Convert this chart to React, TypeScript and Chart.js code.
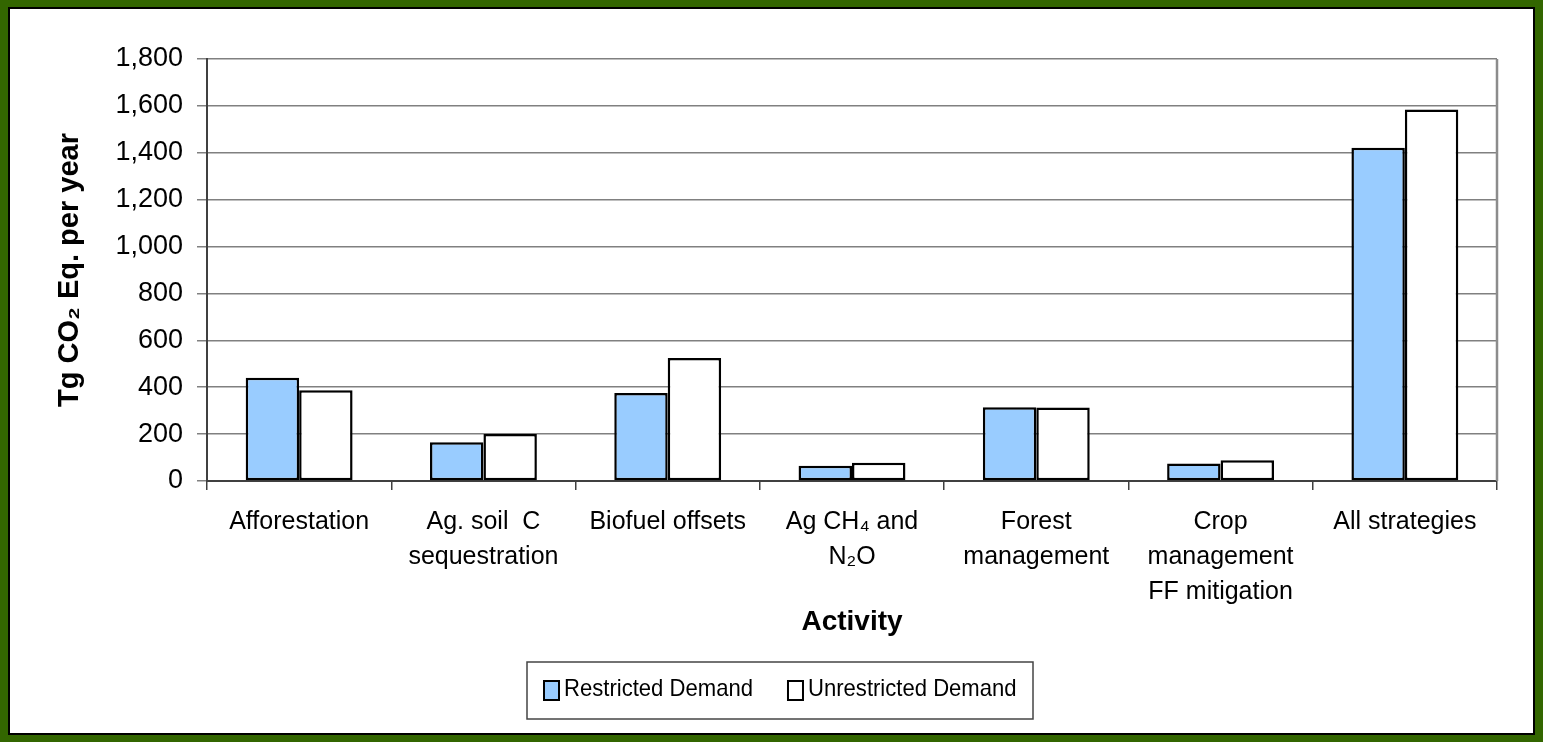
import React, { useEffect, useRef } from 'react';
import { Chart, registerables } from 'chart.js';

Chart.register(...registerables);

const FONT = "'Liberation Sans', Arial, Helvetica, sans-serif";

const categories: string[][] = [
  ['Afforestation'],
  ['Ag. soil  C', 'sequestration'],
  ['Biofuel offsets'],
  ['Ag CH\u2084 and', 'N\u2082O'],
  ['Forest', 'management'],
  ['Crop', 'management', 'FF mitigation'],
  ['All strategies'],
];
const restrictedDemand = [440, 165, 375, 65, 315, 75, 1421];
const unrestrictedDemand = [387, 200, 525, 78, 313, 88, 1585];
const seriesNames = ['Restricted Demand', 'Unrestricted Demand'];
const seriesColors = ['#99CCFF', '#FFFFFF'];
const yMin = 0;
const yMax = 1800;
const yStep = 200;
const yTitle = 'Tg CO\u2082 Eq. per year';
const xTitle = 'Activity';

const plotFrame = {
  id: 'plotFrame',
  beforeDatasetsDraw(chart: any) {
    const { ctx, chartArea } = chart;
    ctx.save();
    ctx.strokeStyle = '#8c8c8c';
    ctx.lineWidth = 2.5;
    ctx.beginPath();
    ctx.moveTo(chartArea.right, chartArea.top);
    ctx.lineTo(chartArea.right, chartArea.bottom);
    ctx.stroke();
    ctx.restore();
  },
};

const boxLegend = {
  id: 'boxLegend',
  afterDraw(chart: any) {
    const { ctx } = chart;
    const ds = chart.data.datasets;
    const left = 527;
    const top = 662;
    const right = 1033;
    const bottom = 719;
    const squeeze = 0.92;
    ctx.save();
    ctx.fillStyle = '#fff';
    ctx.fillRect(left, top, right - left, bottom - top);
    ctx.strokeStyle = '#444';
    ctx.lineWidth = 1.5;
    ctx.strokeRect(left, top, right - left, bottom - top);
    ctx.font = `24px ${FONT}`;
    ctx.textBaseline = 'middle';
    ctx.textAlign = 'left';
    const cy = (top + bottom) / 2 - 1;
    let x = left + 17;
    ds.forEach((d: any) => {
      const sw = 15;
      const sh = 19;
      ctx.fillStyle = d.backgroundColor;
      ctx.fillRect(x, cy - sh / 2 + 1, sw, sh);
      ctx.strokeStyle = '#000';
      ctx.lineWidth = 2;
      ctx.strokeRect(x, cy - sh / 2 + 1, sw, sh);
      x += sw + 5;
      ctx.fillStyle = '#000';
      ctx.save();
      ctx.translate(x, cy);
      ctx.scale(squeeze, 1);
      ctx.fillText(d.label, 0, 0);
      ctx.restore();
      x += ctx.measureText(d.label).width * squeeze + 35;
    });
    ctx.restore();
  },
};

export default function App() {
  const ref = useRef<HTMLCanvasElement | null>(null);

  useEffect(() => {
    if (!ref.current) return;
    const chart = new Chart(ref.current, {
      type: 'bar',
      data: {
        labels: categories,
        datasets: [
          {
            label: seriesNames[0],
            data: restrictedDemand,
            backgroundColor: seriesColors[0],
            borderColor: '#000',
            borderWidth: 2.5,
            borderSkipped: false,
            categoryPercentage: 0.58,
            barPercentage: 1,
          },
          {
            label: seriesNames[1],
            data: unrestrictedDemand,
            backgroundColor: seriesColors[1],
            borderColor: '#000',
            borderWidth: 2.5,
            borderSkipped: false,
            categoryPercentage: 0.58,
            barPercentage: 1,
          },
        ],
      },
      options: {
        responsive: false,
        animation: false,
        devicePixelRatio: 1,
        layout: { padding: { left: 53, right: 46, top: 59, bottom: 103 } },
        plugins: {
          legend: { display: false },
          tooltip: { enabled: false },
        },
        scales: {
          x: {
            grid: {
              offset: true,
              drawOnChartArea: false,
              drawTicks: true,
              tickLength: 9,
              color: '#404040',
              lineWidth: 1.5,
            },
            border: { display: true, color: '#404040', width: 2 },
            ticks: {
              color: '#000',
              font: { size: 25, family: FONT, lineHeight: 1.4 },
              padding: 15,
              maxRotation: 0,
              autoSkip: false,
            },
            title: {
              display: true,
              text: xTitle,
              color: '#000',
              font: { size: 28, weight: 'bold', family: FONT, lineHeight: 1.2 },
              padding: 0,
            },
            afterFit: (s: any) => {
              s.height = 158;
            },
          },
          y: {
            min: yMin,
            max: yMax,
            ticks: {
              stepSize: yStep,
              padding: 14,
              color: '#000',
              font: { size: 27, family: FONT },
              callback: (v: any) => Number(v).toLocaleString('en-US'),
            },
            grid: { color: '#808080', lineWidth: 1.5, tickLength: 10, drawTicks: true },
            border: { display: true, color: '#404040', width: 2 },
            title: {
              display: true,
              text: yTitle,
              color: '#000',
              font: { size: 29, weight: 'bold', family: FONT, lineHeight: 1.2 },
              padding: 0,
            },
            afterFit: (s: any) => {
              s.width = 154;
            },
          },
        },
      },
      plugins: [plotFrame, boxLegend],
    });
    return () => chart.destroy();
  }, []);

  return (
    <div
      style={{
        position: 'fixed',
        left: 0,
        top: 0,
        width: 1543,
        height: 742,
        background: '#336600',
      }}
    >
      <div
        style={{
          position: 'absolute',
          left: 8,
          top: 7,
          right: 8,
          bottom: 7,
          border: '2px solid #000',
          background: '#fff',
        }}
      />
      <canvas
        ref={ref}
        width={1543}
        height={742}
        style={{ position: 'absolute', left: 0, top: 0, width: 1543, height: 742 }}
      />
    </div>
  );
}
